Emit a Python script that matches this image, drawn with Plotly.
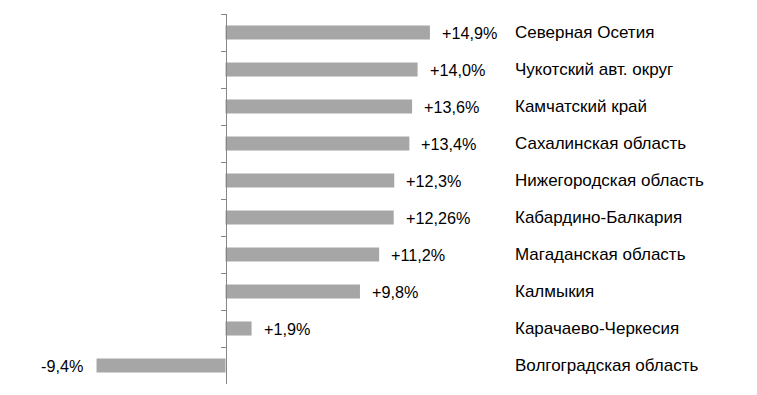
import plotly.graph_objects as go

regions = ["Северная Осетия", "Чукотский авт. округ", "Камчатский край",
           "Сахалинская область", "Нижегородская область", "Кабардино-Балкария",
           "Магаданская область", "Калмыкия", "Карачаево-Черкесия",
           "Волгоградская область"]
values = [14.9, 14.0, 13.6, 13.4, 12.3, 12.26, 11.2, 9.8, 1.9, -9.4]
value_labels = ["+14,9%", "+14,0%", "+13,6%", "+13,4%", "+12,3%", "+12,26%",
                "+11,2%", "+9,8%", "+1,9%", "-9,4%"]

W, H = 757, 395
OFF = 8  # page body margin
zero_px = 225.5 - OFF
px_per_unit = 13.72
xmin = -zero_px / px_per_unit
xmax = (W - zero_px) / px_per_unit

FONT = "Liberation Sans, Arial, sans-serif"

fig = go.Figure(go.Bar(
    x=values, y=regions, orientation="h",
    marker=dict(color="#a6a6a6", line=dict(width=0)),
    hoverinfo="skip",
))

annotations = []
for r, v, lab in zip(regions, values, value_labels):
    annotations.append(dict(
        x=v, y=r, xref="x", yref="y", text=lab, showarrow=False,
        xanchor="left" if v >= 0 else "right",
        xshift=10 if v >= 0 else -12,
        font=dict(family=FONT, size=16.2, color="#000000"),
    ))
    annotations.append(dict(
        x=(513 - OFF) / W, y=r, xref="paper", yref="y", text=r, showarrow=False,
        xanchor="left",
        font=dict(family=FONT, size=17, color="#000000"),
    ))

fig.update_layout(
    width=W, height=H,
    margin=dict(l=0, r=0, t=14 - OFF, b=11 + OFF),
    plot_bgcolor="white", paper_bgcolor="white",
    showlegend=False,
    bargap=0.62,
    annotations=annotations,
    xaxis=dict(range=[xmin, xmax], visible=False, showgrid=False, zeroline=False),
    yaxis=dict(
        autorange="reversed", anchor="free", position=zero_px / W,
        showline=True, linecolor="#868686", linewidth=1,
        ticks="outside", ticklen=5, tickcolor="#868686", tickson="boundaries",
        showticklabels=False, showgrid=False, zeroline=False,
    ),
)

fig.write_html("out.html")
